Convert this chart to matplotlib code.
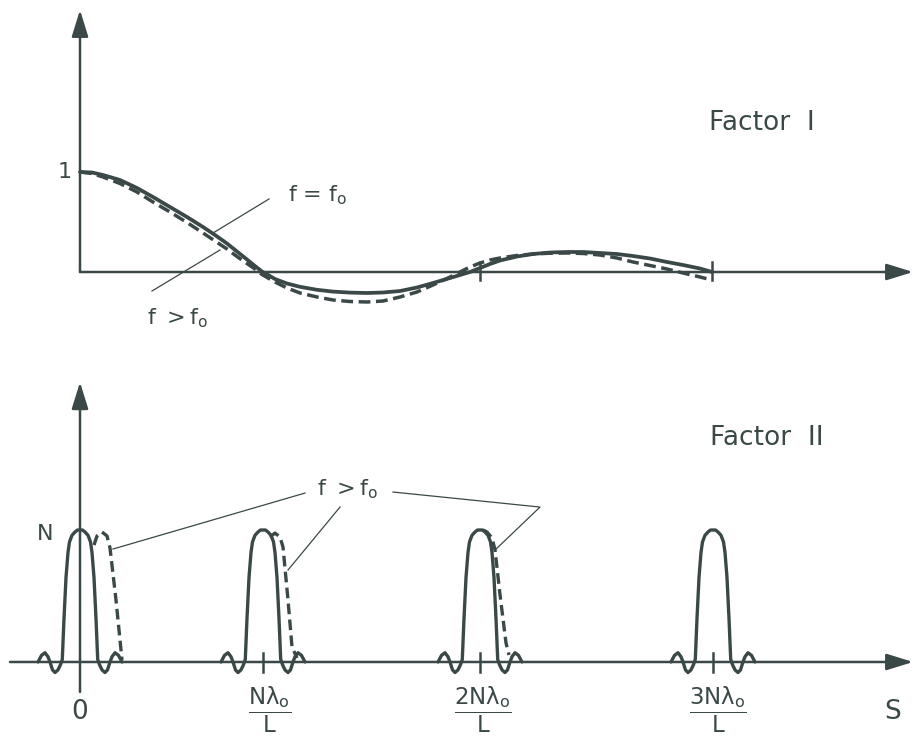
import numpy as np
import matplotlib.pyplot as plt

plt.rcParams['font.family'] = ['DejaVu Sans']
plt.rcParams['mathtext.fontset'] = 'dejavusans'
plt.rcParams['mathtext.default'] = 'regular'

ink = '#3b4848'

# ---- Factor I (oberes Bild), x in Zeicheneinheiten, y: 1 = Maximum
f1_x = [0.0, 0.12, 0.23, 0.40, 0.57, 0.73, 0.90, 1.07, 1.23, 1.35, 1.47, 1.57,
        1.67, 1.75, 1.82, 1.95, 2.07, 2.20, 2.37, 2.53, 2.70, 2.87, 3.03, 3.20,
        3.37, 3.53, 3.70, 3.90, 4.00, 4.10, 4.20, 4.37, 4.53, 4.70, 4.87, 5.03,
        5.20, 5.37, 5.53, 5.70, 5.87, 6.03, 6.20, 6.32]
f1_solid = [1.0, 0.995, 0.97, 0.92, 0.84, 0.75, 0.65, 0.55, 0.45, 0.37, 0.285, 0.205,
            0.125, 0.06, 0.005, -0.07, -0.115, -0.148, -0.178, -0.196, -0.206, -0.21, -0.205, -0.19,
            -0.155, -0.11, -0.06, 0.0, 0.04, 0.08, 0.115, 0.155, 0.18, 0.195, 0.20, 0.20,
            0.19, 0.18, 0.16, 0.135, 0.10, 0.07, 0.035, 0.0]
f1_dash_x = [0.0, 0.12, 0.23, 0.40, 0.57, 0.73, 0.90, 1.07, 1.23, 1.35, 1.47, 1.57,
             1.67, 1.75, 1.82, 1.95, 2.07, 2.20, 2.37, 2.53, 2.70, 2.87, 3.03, 3.20,
             3.37, 3.53, 3.67, 3.80, 3.90, 4.00, 4.10, 4.20, 4.37, 4.53, 4.70, 4.87,
             5.03, 5.20, 5.37, 5.53, 5.70, 5.87, 6.03, 6.20, 6.32]
f1_dash = [1.0, 0.985, 0.95, 0.885, 0.80, 0.70, 0.60, 0.495, 0.39, 0.31, 0.23, 0.155,
           0.085, 0.03, -0.025, -0.10, -0.16, -0.21, -0.25, -0.28, -0.295, -0.30, -0.29, -0.25,
           -0.20, -0.13, -0.065, 0.0, 0.05, 0.09, 0.12, 0.14, 0.165, 0.18, 0.188, 0.19,
           0.185, 0.17, 0.14, 0.10, 0.065, 0.03, -0.01, -0.05, -0.08]
f1_ticks = [4.0, 6.32]

# ---- Factor II (unteres Bild), y: 1 = N
peak_centers = [0.0, 1.83, 4.0, 6.33]
lobe_dx = [-0.42, -0.385, -0.35, -0.32, -0.30, -0.275, -0.25, -0.22, -0.195, -0.177,
           -0.16, -0.14, -0.12, -0.105, -0.08, -0.05, -0.025, 0.0, 0.025, 0.05, 0.08,
           0.105, 0.12, 0.14, 0.16, 0.177, 0.195, 0.22, 0.25, 0.275, 0.30, 0.32, 0.35,
           0.385, 0.42]
lobe_h = [0, 0.05, 0.07, 0.04, 0, -0.06, -0.08, -0.06, -0.02, 0.02,
          0.33, 0.64, 0.83, 0.91, 0.96, 0.985, 1.0, 1.0, 1.0, 0.985, 0.96,
          0.91, 0.83, 0.64, 0.33, 0.02, -0.02, -0.06, -0.08, -0.06, 0, 0.04, 0.07,
          0.05, 0]

# verschobene Maxima (f > f0), nur rechte Flanke sichtbar
dash0_x = [0.14, 0.17, 0.22, 0.27, 0.30, 0.36, 0.42]
dash0_y = [0.886, 0.955, 0.985, 0.955, 0.864, 0.47, 0.015]
dash1_x = [1.90, 1.95, 2.00, 2.03, 2.08, 2.12, 2.17]
dash1_y = [0.947, 0.977, 0.947, 0.871, 0.47, 0.114, 0.03]
dash2_x = [4.03, 4.07, 4.12, 4.15, 4.20, 4.26, 4.29]
dash2_y = [1.0, 0.985, 0.94, 0.85, 0.51, 0.144, 0.053]

tick_label_x = [1.90, 4.03, 6.38]
tick_labels = [r'$\dfrac{N\lambda_o}{L}$', r'$\dfrac{2N\lambda_o}{L}$',
               r'$\dfrac{3N\lambda_o}{L}$']

fig = plt.figure(figsize=(9.15, 7.38), dpi=100)
fig.patch.set_facecolor('white')

ax1 = fig.add_axes([0, 1 - 345 / 738, 1, 345 / 738])
ax1.set_xlim(-0.80, 8.35)
ax1.set_ylim(-0.73, 2.72)
ax1.axis('off')

ax2 = fig.add_axes([0, 0, 1, 393 / 738])
ax2.set_xlim(-0.80, 8.35)
ax2.set_ylim(-0.576, 2.402)
ax2.axis('off')

def arrow(ax, start, tip):
    ax.annotate('', xy=tip, xytext=start,
                arrowprops=dict(arrowstyle='-|>,head_length=0.45,head_width=0.14',
                                mutation_scale=36, lw=1.8, color=ink,
                                shrinkA=0, shrinkB=0))

# Achsen oben
arrow(ax1, (0, 0), (0, 2.62))
arrow(ax1, (0, 0), (8.33, 0))
for t in f1_ticks:
    ax1.plot([t, t], [0.10, -0.08], color=ink, lw=1.8)

ax1.plot(f1_x, f1_solid, color=ink, lw=2.7, solid_joinstyle='round',
         solid_capstyle='round')
ax1.plot(f1_dash_x, f1_dash, color=ink, lw=2.5, linestyle=(0, (3.4, 1.6)))

ax1.plot([1.89, 1.33], [0.73, 0.39], color=ink, lw=0.9)
ax1.plot([1.40, 0.72], [0.22, -0.19], color=ink, lw=0.9)

ax1.text(-0.15, 1.0, '1', color=ink, fontsize=16, ha='center', va='center')
ax1.text(2.08, 0.77, r'f = f$_o$', color=ink, fontsize=16, ha='left', va='center')
ax1.text(0.67, -0.46, r'f $>$f$_o$', color=ink, fontsize=16, ha='left', va='center')
ax1.text(6.29, 1.49, 'Factor  I', color=ink, fontsize=19, ha='left', va='center')

# Achsen unten
arrow(ax2, (0, -0.227), (0, 2.12))
arrow(ax2, (-0.70, 0), (8.33, 0))
for c in peak_centers[1:]:
    ax2.plot([c, c], [0.068, -0.076], color=ink, lw=1.8)

for c in peak_centers:
    ax2.plot(np.array(lobe_dx) + c, lobe_h, color=ink, lw=2.4,
             solid_joinstyle='round', solid_capstyle='round')
for dx, dy in [(dash0_x, dash0_y), (dash1_x, dash1_y), (dash2_x, dash2_y)]:
    ax2.plot(dx, dy, color=ink, lw=2.4, linestyle=(0, (3.2, 1.6)))

ax2.plot([2.25, 0.33], [1.28, 0.856], color=ink, lw=0.9)
ax2.plot([2.60, 2.08], [1.174, 0.697], color=ink, lw=0.9)
ax2.plot([3.13, 4.60, 4.15], [1.288, 1.174, 0.848], color=ink, lw=0.9)

ax2.text(-0.35, 0.97, 'N', color=ink, fontsize=16, ha='center', va='center')
ax2.text(2.37, 1.31, r'f $>$f$_o$', color=ink, fontsize=16, ha='left', va='center')
ax2.text(6.30, 1.70, 'Factor  II', color=ink, fontsize=19, ha='left', va='center')
ax2.text(0.0, -0.38, '0', color=ink, fontsize=19, ha='center', va='center')
for x, lab in zip(tick_label_x, tick_labels):
    ax2.text(x, -0.175, lab, color=ink, fontsize=16.5, ha='center', va='top')
ax2.text(8.13, -0.38, 'S', color=ink, fontsize=19, ha='center', va='center')

fig.savefig('out.png', dpi=100, facecolor='white')
